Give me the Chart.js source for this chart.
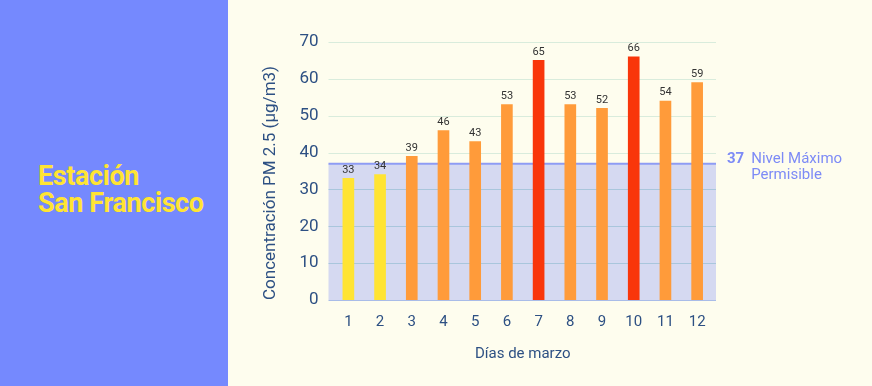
<!DOCTYPE html>
<html>
<head>
<meta charset="utf-8">
<script src="https://cdn.jsdelivr.net/npm/chart.js@4/dist/chart.umd.min.js"></script>
<style>
  html, body { margin: 0; padding: 0; width: 872px; height: 386px; overflow: hidden; background: #fefdee; font-family: Roboto, sans-serif; }
  #side { position: absolute; left: 0; top: 0; width: 228px; height: 386px; background: #7589fe; }
  #side h1 { position: absolute; left: 38px; top: 163px; margin: 0; color: #ffe433; font-size: 27px; line-height: 27px; font-weight: 700; letter-spacing: -0.4px; }
  #wrap { position: absolute; left: 228px; top: 0; width: 644px; height: 386px; }
</style>
</head>
<body>
<div id="side"><h1>Estación<br>San Francisco</h1></div>
<div id="wrap"><canvas id="chart"></canvas></div>
<script>
// --- Data ---
const days = ['1', '2', '3', '4', '5', '6', '7', '8', '9', '10', '11', '12'];
const pm25 = [33, 34, 39, 46, 43, 53, 65, 53, 52, 66, 54, 59];
const barColors = ['#ffe433', '#ffe433', '#ff9b3a', '#ff9b3a', '#ff9b3a', '#ff9b3a', '#f9360a',
                   '#ff9b3a', '#ff9b3a', '#f9360a', '#ff9b3a', '#ff9b3a'];
const yTicks = [0, 10, 20, 30, 40, 50, 60, 70];
const limitValue = 37;
const limitLabel = ['Nivel Máximo', 'Permisible'];

const tickColor = '#2d5083';

// shaded band, gridlines and threshold line behind the bars
const limitPlugin = {
    id: 'limitBand',
    beforeDatasetsDraw(chart) {
        const { ctx, chartArea, scales: { y } } = chart;
        const left = chartArea.left - 4, right = chartArea.right + 3;
        const yLim = y.getPixelForValue(limitValue);
        const y0 = y.getPixelForValue(0);
        ctx.save();
        ctx.fillStyle = '#d5d9f1';
        ctx.fillRect(left, yLim, right - left, y0 - yLim);
        ctx.lineWidth = 1;
        yTicks.forEach(v => {
            const py = Math.round(y.getPixelForValue(v)) + 0.5;
            ctx.strokeStyle = v === 0 ? '#a9bce8' : (v < limitValue ? '#a9c6dc' : '#d9ecdc');
            ctx.beginPath();
            ctx.moveTo(left, py);
            ctx.lineTo(right, py);
            ctx.stroke();
        });
        ctx.strokeStyle = '#8e9cf4';
        ctx.lineWidth = 2;
        ctx.beginPath();
        ctx.moveTo(left, yLim);
        ctx.lineTo(right, yLim);
        ctx.stroke();

        // threshold annotation
        ctx.fillStyle = '#7d8bf6';
        ctx.textBaseline = 'middle';
        ctx.textAlign = 'left';
        ctx.font = '700 15px Roboto, sans-serif';
        const tx = right + 11;
        ctx.fillText(String(limitValue), tx, yLim - 4);
        const w = ctx.measureText(String(limitValue)).width;
        ctx.font = '400 15px Roboto, sans-serif';
        ctx.fillText(limitLabel[0], tx + w + 7, yLim - 4);
        ctx.fillText(limitLabel[1], tx + w + 7, yLim + 12);
        ctx.restore();
    },
    afterDatasetsDraw(chart) {
        const { ctx } = chart;
        const meta = chart.getDatasetMeta(0);
        ctx.save();
        ctx.fillStyle = '#333333';
        ctx.font = '400 11px Roboto, sans-serif';
        ctx.textAlign = 'center';
        ctx.textBaseline = 'bottom';
        meta.data.forEach((bar, i) => {
            ctx.fillText(String(pm25[i]), bar.x, bar.y - 3);
        });
        ctx.restore();
    }
};

new Chart(document.getElementById('chart'), {
    type: 'bar',
    data: {
        labels: days,
        datasets: [{
            data: pm25,
            backgroundColor: barColors,
            barThickness: 11,
            borderWidth: 0
        }]
    },
    options: {
        responsive: true,
        maintainAspectRatio: false,
        animation: false,
        layout: { padding: { left: 29, right: 159, top: 42, bottom: 19 } },
        plugins: { legend: { display: false }, tooltip: { enabled: false } },
        scales: {
            x: {
                grid: { display: false },
                border: { display: false },
                ticks: { color: tickColor, font: { family: 'Roboto', size: 15 }, padding: 5 },
                title: { display: true, text: 'Días de marzo', color: tickColor, font: { family: 'Roboto', size: 15 }, padding: { top: 9 } }
            },
            y: {
                min: 0, max: 70,
                afterBuildTicks: axis => { axis.ticks = yTicks.map(v => ({ value: v })); },
                grid: { display: false },
                border: { display: false },
                ticks: { color: tickColor, font: { family: 'Roboto', size: 17 }, padding: 6 },
                title: { display: true, align: 'start', text: 'Concentración PM 2.5 (µg/m3)', color: tickColor, font: { family: 'Roboto', size: 17 }, padding: { bottom: 12 } }
            }
        }
    },
    plugins: [limitPlugin]
});
</script>
</body>
</html>
